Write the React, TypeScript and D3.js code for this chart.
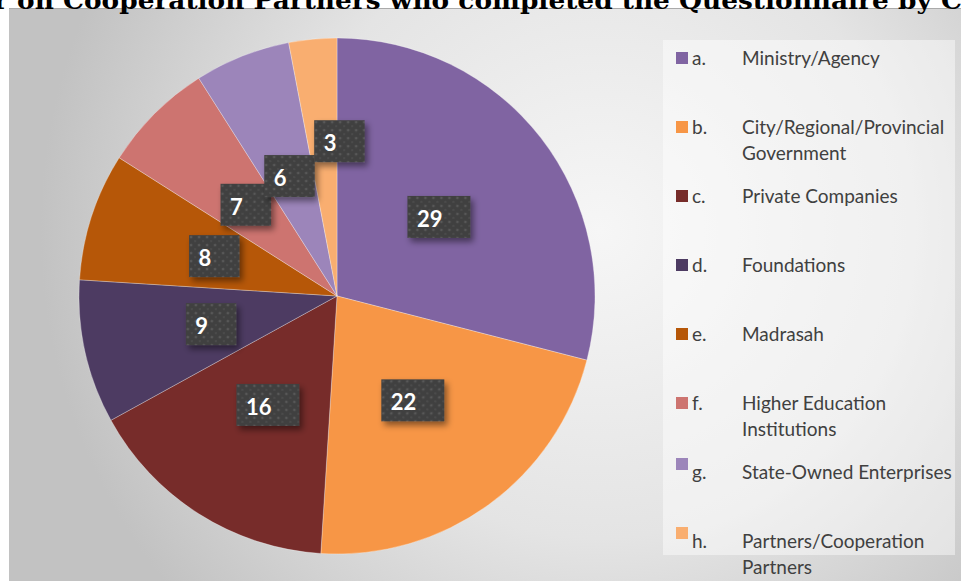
import React from 'react';
import * as d3 from 'd3';

// chart data
const categories = [
  'Ministry/Agency',
  'City/Regional/Provincial Government',
  'Private Companies',
  'Foundations',
  'Madrasah',
  'Higher Education Institutions',
  'State-Owned Enterprises',
  'Partners/Cooperation Partners',
];
const letters = ['a.', 'b.', 'c.', 'd.', 'e.', 'f.', 'g.', 'h.'];
const legendLines = [
  ['Ministry/Agency'],
  ['City/Regional/Provincial', 'Government'],
  ['Private Companies'],
  ['Foundations'],
  ['Madrasah'],
  ['Higher Education', 'Institutions'],
  ['State-Owned Enterprises'],
  ['Partners/Cooperation', 'Partners'],
];
const values = [29, 22, 16, 9, 8, 7, 6, 3];
const colors = ['#8064A2', '#F79646', '#772C2A', '#4D3B62', '#B65708', '#CD7470', '#9C85BA', '#F9AE70'];
const titleText = 'r on Cooperation Partners who completed the Questionnaire by Ca';

const W = 961;
const H = 581;
const cx = 337;
const cy = 296;
const R = 258;

const App = () => {
  const pie = d3.pie<number>().sort(null).value(d => d);
  const arcs = pie(values);
  const arc = d3.arc<d3.PieArcDatum<number>>().innerRadius(0).outerRadius(R);

  const legendY = d3.scalePoint<string>().domain(categories).range([58, 541]);

  return (
    <svg width={W} height={H} style={{ position: 'absolute', left: 0, top: 0, display: 'block' }}>
      <defs>
        <radialGradient id="bg" gradientUnits="userSpaceOnUse" cx={600} cy={230} r={560}>
          <stop offset="0" stopColor="#f6f6f6" />
          <stop offset="0.55" stopColor="#e4e4e4" />
          <stop offset="1" stopColor="#c2c2c2" />
        </radialGradient>
        <pattern id="dots" width={8} height={8} patternUnits="userSpaceOnUse">
          <rect width={8} height={8} fill="#414141" />
          <circle cx={2} cy={2} r={1.3} fill="#585858" />
          <circle cx={6} cy={6} r={0.9} fill="#4f4f4f" />
        </pattern>
        <filter id="shadow" x="-30%" y="-30%" width="170%" height="170%">
          <feDropShadow dx={3} dy={4} stdDeviation={3} floodColor="#000" floodOpacity={0.45} />
        </filter>
      </defs>

      <rect x={0} y={0} width={W} height={H} fill="#fff" />
      <rect x={9} y={8} width={W - 9} height={H - 8} fill="url(#bg)" />
      <line x1={9} x2={W} y1={8.5} y2={8.5} stroke="#aaa" strokeWidth={1} />

      <text
        x={-6}
        y={9}
        fontFamily="'DejaVu Serif', serif"
        fontWeight="bold"
        fontSize={24}
        fill="#000"
        textLength={985}
        lengthAdjust="spacingAndGlyphs"
      >
        {titleText}
      </text>

      <g transform={`translate(${cx},${cy})`}>
        {arcs.map((a, i) => (
          <path key={i} d={arc(a) || ''} fill={colors[i]} stroke="#fff" strokeOpacity={0.5} strokeWidth={0.6} />
        ))}
        {arcs.map((a, i) => {
          const mid = (a.startAngle + a.endAngle) / 2;
          // last (small) label is pushed outward by the chart program
          const rr = i === arcs.length - 1 ? R * 0.6 : R * 0.5;
          const ang = i === arcs.length - 1 ? mid + 0.11 : mid;
          const x = Math.sin(ang) * rr;
          const y = -Math.cos(ang) * rr;
          const label = String(values[i]);
          const bw = 38 + 12.5 * label.length;
          const bh = 42;
          return (
            <g key={'l' + i} transform={`translate(${x - bw / 2},${y - bh / 2})`}>
              <rect width={bw} height={bh} fill="url(#dots)" filter="url(#shadow)" />
              <text x={9.5} y={31} fill="#fff" fontFamily="Lato, sans-serif" fontWeight="bold" fontSize={22}>
                {label}
              </text>
            </g>
          );
        })}
      </g>

      <rect x={663} y={40} width={292} height={515} fill="#fff" fillOpacity={0.45} />
      {categories.map((c, i) => {
        const y = legendY(c) as number;
        // the last two markers sit a little higher than their text
        const lift = i >= 6 ? -8 : 0;
        return (
          <g key={c} fontFamily="Lato, sans-serif" fontSize={19} fill="#404040">
            <rect x={676} y={y - 6 + lift} width={12} height={12} fill={colors[i]} />
            <text x={692} y={y + 7}>{letters[i]}</text>
            {legendLines[i].map((ln, j) => (
              <text key={j} x={742} y={y + 7 + j * 26}>{ln}</text>
            ))}
          </g>
        );
      })}
    </svg>
  );
};

export default App;
